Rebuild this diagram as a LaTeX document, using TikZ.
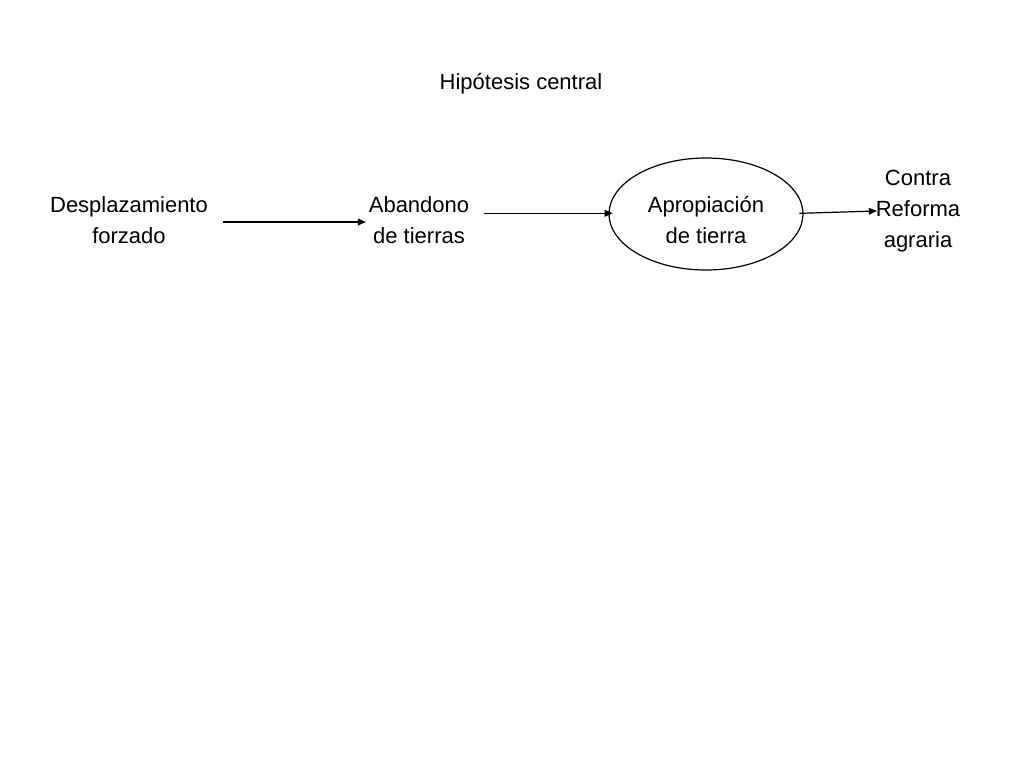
\documentclass[tikz,border=0pt]{standalone}
\usepackage{fontspec}
\setmainfont{Liberation Sans}
\usetikzlibrary{arrows.meta}
\begin{document}
\begin{tikzpicture}[x=0.75pt,y=-0.75pt,
  lbl/.style={align=center,font=\fontsize{16.5}{23.5}\selectfont,inner sep=2pt},
  arr/.style={-{Triangle[length=6pt,width=5pt]},line width=0.9pt}]
\useasboundingbox (0,0) rectangle (1024,768);
\node[lbl] (t) at (521,84) {Hipótesis central};
\node[lbl] (d) at (129,220) {Desplazamiento\\forzado};
\node[lbl] (a) at (419,220) {Abandono\\de tierras};
\draw[line width=0.9pt] (706,214) ellipse (97 and 56);
\node[lbl,minimum width=194*0.75pt] (p) at (706,220) {Apropiación\\de tierra};
\node[lbl] (c) at (918,211) {Contra\\Reforma\\agraria};
\draw[arr] ([yshift=-1.5pt]d.east) ++(9pt,0) coordinate (d1) -- ([yshift=-1.5pt]a.west) ;
\draw[arr] ([xshift=9pt,yshift=5pt]a.east) -- ([xshift=3pt,yshift=5pt]p.west);
\draw[arr] ([xshift=-3pt,yshift=5pt]p.east) -- ([xshift=3pt]c.west);
\end{tikzpicture}
\end{document}
